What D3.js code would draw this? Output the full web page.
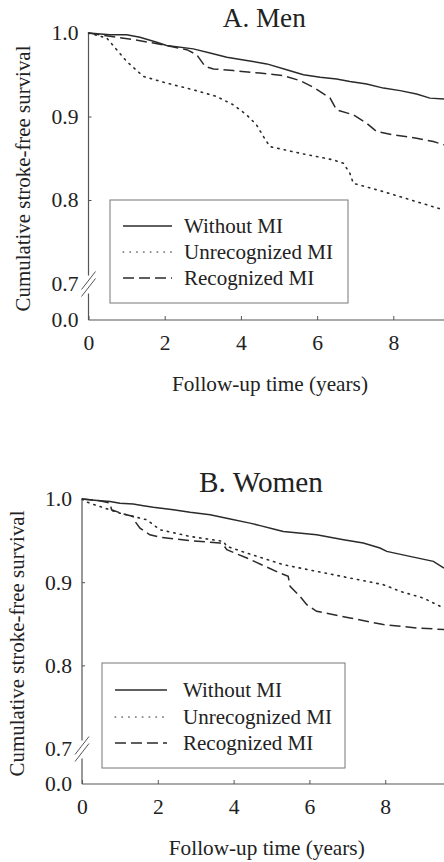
<!DOCTYPE html>
<html>
<head>
<meta charset="utf-8">
<script src="https://cdn.jsdelivr.net/npm/d3@7"></script>
<style>
  body { margin: 0; background: #fff; }
</style>
</head>
<body>
<div id="chart"></div>
<script>
// series labels and tick values
const seriesNames = ['Without MI', 'Unrecognized MI', 'Recognized MI'];
const xTicks = [0, 2, 4, 6, 8];
const yTicks = [0, 0.7, 0.8, 0.9, 1.0];

// [years, survival]
const menWithout = [[0,1],[0.56,0.998],[1.0,0.998],[1.35,0.995],[1.79,0.989],[2.05,0.985],[2.75,0.981],[3.19,0.976],[3.63,0.971],[4.15,0.967],[4.68,0.963],[5.2,0.956],[5.64,0.95],[6.08,0.947],[6.51,0.945],[6.86,0.942],[7.3,0.939],[7.74,0.934],[8.18,0.931],[8.61,0.927],[8.96,0.922],[9.33,0.921]];
const menUnrec = [[0,1],[0.48,0.994],[0.74,0.98],[1.0,0.966],[1.44,0.948],[2.05,0.94],[2.75,0.932],[3.36,0.924],[3.8,0.914],[4.15,0.902],[4.41,0.89],[4.59,0.876],[4.76,0.864],[5.55,0.856],[6.43,0.848],[6.69,0.844],[6.86,0.832],[6.95,0.82],[7.74,0.81],[8.61,0.798],[9.33,0.788]];
const menRec = [[0,1],[0.56,0.996],[1.18,0.992],[1.7,0.988],[2.05,0.985],[2.58,0.98],[2.84,0.974],[3.06,0.96],[3.28,0.957],[3.8,0.955],[4.5,0.952],[5.11,0.949],[5.55,0.943],[5.9,0.935],[6.34,0.922],[6.51,0.908],[6.95,0.902],[7.3,0.892],[7.56,0.882],[8.0,0.878],[8.61,0.874],[9.05,0.87],[9.33,0.866]];

const womenWithout = [[0,1],[0.47,0.998],[0.74,0.997],[1.0,0.995],[1.35,0.994],[1.62,0.992],[1.88,0.99],[2.41,0.987],[2.85,0.984],[3.38,0.981],[3.91,0.976],[4.43,0.971],[4.7,0.968],[5.05,0.964],[5.31,0.961],[6.19,0.957],[6.9,0.951],[7.42,0.947],[7.86,0.941],[8.04,0.937],[8.65,0.931],[9.27,0.925],[9.55,0.917]];
const womenUnrec = [[0,1],[0.08,0.997],[0.47,0.991],[1.0,0.983],[1.71,0.975],[2.06,0.963],[2.85,0.955],[3.73,0.949],[3.82,0.943],[4.35,0.935],[5.31,0.921],[6.19,0.913],[7.07,0.905],[7.95,0.897],[8.39,0.889],[9.0,0.881],[9.45,0.871],[9.55,0.869]];
const womenRec = [[0,1],[0.47,0.998],[0.74,0.995],[0.78,0.987],[1.09,0.982],[1.35,0.979],[1.4,0.973],[1.53,0.965],[1.79,0.957],[2.06,0.954],[2.85,0.95],[3.64,0.947],[3.73,0.945],[3.82,0.939],[4.35,0.929],[5.22,0.911],[5.44,0.907],[5.49,0.895],[5.75,0.883],[5.93,0.873],[6.19,0.865],[7.07,0.857],[7.95,0.849],[8.83,0.845],[9.55,0.843]];

const width = 444, height = 862;
const font = "'Liberation Serif', 'Times New Roman', Times, Tinos, 'Nimbus Roman', 'DejaVu Serif', serif";
const lineColor = '#2b2b2b';
const axisColor = '#555';
const textColor = '#222';
const dashes = [null, '1.4,5.2', '11,5'];

const svg = d3.select('#chart').append('svg')
  .attr('width', width).attr('height', height)
  .attr('viewBox', [0, 0, width, height])
  .attr('font-family', font)
  .style('display', 'block');

// shrink/grow a text so it spans the width measured on the reference
function fitText(sel, target, size) {
  sel.attr('font-size', size);
  const w = sel.node().getComputedTextLength();
  const s = Math.min(size * 1.15, size * target / w);
  sel.attr('font-size', s);
  return s;
}

const panels = [
  { title: 'A. Men', titleW: 83, series: [menWithout, menUnrec, menRec],
    left: 88.5, right: 444, tMax: 9.33, y10: 33, y07: 283.5, y00: 320, titleY: 27, yTitleX: 23,
    legend: { x: 110, y: 200, w: 238, h: 103, rows: [226, 252, 278], lx1: 123, lx2: 172, tx: 184 } },
  { title: 'B. Women', titleW: 124, series: [womenWithout, womenUnrec, womenRec],
    left: 82, right: 444, tMax: 9.55, y10: 499, y07: 748.5, y00: 784, titleY: 492, yTitleX: 17,
    legend: { x: 102, y: 663, w: 243, h: 105, rows: [690, 717, 743], lx1: 115, lx2: 167, tx: 183 } }
];

panels.forEach(drawPanel);

function drawPanel(p) {
  const g = svg.append('g').attr('font-family', font);
  const x = d3.scaleLinear().domain([0, p.tMax]).range([p.left, p.right]);
  // broken axis: 0.0 sits just under 0.7
  const y = d3.scaleLinear().domain([0, 0.7, 1.0]).range([p.y00, p.y07, p.y10]);

  // title
  const title = g.append('text')
    .attr('x', (p.left + p.right) / 2 - 2).attr('y', p.titleY)
    .attr('text-anchor', 'middle').attr('fill', textColor)
    .attr('font-family', font)
    .text(p.title);
  fitText(title, p.titleW, 27);

  // x axis
  const xAxisG = g.append('g').attr('transform', `translate(0,${p.y00})`)
    .call(d3.axisBottom(x).tickValues(xTicks).tickSize(-4).tickPadding(15).tickFormat(d3.format('d')));
  xAxisG.attr('font-family', font);
  xAxisG.select('.domain').remove();
  xAxisG.selectAll('.tick line').attr('stroke', axisColor);
  g.append('line').attr('x1', p.left).attr('x2', p.right)
    .attr('y1', p.y00).attr('y2', p.y00).attr('stroke', axisColor).attr('stroke-width', 1.2);

  // y axis
  const yAxisG = g.append('g').attr('transform', `translate(${p.left},0)`)
    .call(d3.axisLeft(y).tickValues(yTicks).tickSize(-3).tickPadding(10).tickFormat(d3.format('.1f')));
  yAxisG.attr('font-family', font);
  yAxisG.select('.domain').remove();
  yAxisG.selectAll('.tick line').attr('stroke', axisColor)
    .attr('display', d => d < 0.75 ? 'none' : null);

  // tick label size from the width of "1.0"
  const sample = yAxisG.selectAll('.tick text').filter(d => d === 1.0);
  sample.attr('font-family', font);
  const tickSize = fitText(sample, 27, 19);
  g.selectAll('.tick text').attr('font-size', tickSize).attr('fill', textColor)
    .attr('font-family', font);

  const yb = y(0.7) + 2;
  g.append('line').attr('x1', p.left).attr('x2', p.left)
    .attr('y1', y(1.0)).attr('y2', yb - 10).attr('stroke', axisColor).attr('stroke-width', 1.2);
  g.append('line').attr('x1', p.left).attr('x2', p.left)
    .attr('y1', yb + 8).attr('y2', p.y00).attr('stroke', axisColor).attr('stroke-width', 1.2);
  // break marks
  [-3, 4].forEach(off => {
    g.append('line')
      .attr('x1', p.left - 7).attr('y1', yb + off + 7)
      .attr('x2', p.left + 7).attr('y2', yb + off - 11)
      .attr('stroke', axisColor).attr('stroke-width', 1);
  });

  // y axis title
  const yTitle = g.append('text')
    .attr('transform', `translate(${p.yTitleX},${(y(1.0) + p.y00) / 2 + 2}) rotate(-90)`)
    .attr('text-anchor', 'middle').attr('dy', '0.35em').attr('fill', textColor)
    .attr('font-family', font)
    .text('Cumulative stroke-free survival');
  fitText(yTitle, 266, 21);

  // x axis title
  const xTitle = g.append('text')
    .attr('x', 270 - (88.5 - p.left) / 2).attr('y', p.y00 + 71)
    .attr('text-anchor', 'middle').attr('fill', textColor)
    .attr('font-family', font)
    .text('Follow-up time (years)');
  fitText(xTitle, 196, 21);

  // curves
  const line = d3.line().x(d => x(d[0])).y(d => y(d[1]));
  p.series.forEach((s, i) => {
    g.append('path').datum(s)
      .attr('d', line)
      .attr('fill', 'none')
      .attr('stroke', lineColor)
      .attr('stroke-width', i === 1 ? 1.6 : 1.5)
      .attr('stroke-linecap', i === 1 ? 'round' : 'butt')
      .attr('stroke-dasharray', dashes[i]);
  });

  // legend
  const L = p.legend;
  const lg = g.append('g');
  lg.append('rect').attr('x', L.x).attr('y', L.y).attr('width', L.w).attr('height', L.h)
    .attr('fill', '#fff').attr('stroke', '#777').attr('stroke-width', 1);
  let legendSize = 20;
  seriesNames.forEach((name, i) => {
    lg.append('line').attr('x1', L.lx1).attr('x2', L.lx2)
      .attr('y1', L.rows[i]).attr('y2', L.rows[i])
      .attr('stroke', lineColor).attr('stroke-width', i === 1 ? 1.2 : 1.5)
      .attr('stroke-linecap', i === 1 ? 'round' : 'butt')
      .attr('stroke-dasharray', i === 1 ? '0.8,6' : dashes[i]);
    const t = lg.append('text').attr('class', 'legend-label')
      .attr('x', L.tx).attr('y', L.rows[i]).attr('dy', '0.34em')
      .attr('fill', textColor).attr('font-family', font).text(name);
    if (i === 1) legendSize = fitText(t, 149, 20);
  });
  lg.selectAll('.legend-label').attr('font-size', legendSize);
}
</script>
</body>
</html>
